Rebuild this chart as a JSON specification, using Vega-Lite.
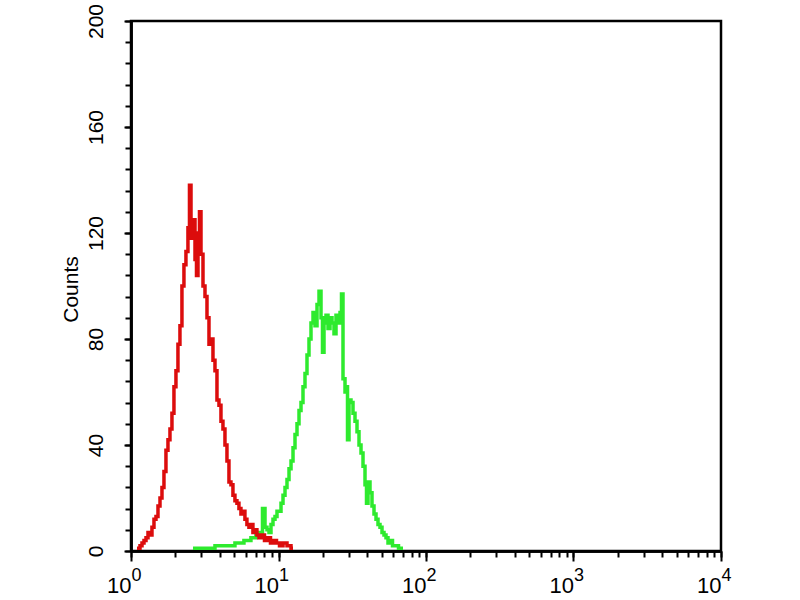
{
  "$schema": "https://vega.github.io/schema/vega-lite/v6.json",
  "width": 590,
  "height": 530,
  "autosize": {"type": "none"},
  "padding": {"left": 131, "top": 21, "right": 79, "bottom": 49},
  "background": "white",
  "config": {
    "view": {"stroke": "#000", "strokeWidth": 2.5},
    "axis": {"grid": false, "domainColor": "#000", "domainWidth": 2.5, "tickColor": "#000", "tickWidth": 2, "labelColor": "#000", "titleColor": "#000", "labelOverlap": false, "labelBound": false, "labelFlush": false}
  },
  "datasets": {
    "green": [
      {"v": 2.632, "c": 1}, {"v": 2.936, "c": 1}, {"v": 3.431, "c": 1}, {"v": 4.01, "c": 2}, {"v": 4.687, "c": 2}, {"v": 5.478, "c": 3}, {"v": 6.205, "c": 4}, {"v": 6.814, "c": 5}, {"v": 7.252, "c": 7}, {"v": 7.607, "c": 6}, {"v": 7.977, "c": 16}, {"v": 8.227, "c": 9}, {"v": 8.488, "c": 8}, {"v": 8.757, "c": 7}, {"v": 9.033, "c": 10}, {"v": 9.321, "c": 12}, {"v": 9.618, "c": 13}, {"v": 9.922, "c": 15}, {"v": 10.24, "c": 15}, {"v": 10.56, "c": 18}, {"v": 10.9, "c": 21}, {"v": 11.24, "c": 24}, {"v": 11.6, "c": 27}, {"v": 11.97, "c": 31}, {"v": 12.35, "c": 34}, {"v": 12.74, "c": 39}, {"v": 13.14, "c": 44}, {"v": 13.56, "c": 48}, {"v": 13.99, "c": 53}, {"v": 14.43, "c": 56}, {"v": 14.89, "c": 62}, {"v": 15.36, "c": 67}, {"v": 15.85, "c": 74}, {"v": 16.35, "c": 80}, {"v": 16.87, "c": 86}, {"v": 17.41, "c": 90}, {"v": 17.96, "c": 85}, {"v": 18.53, "c": 93}, {"v": 19.12, "c": 98}, {"v": 19.72, "c": 88}, {"v": 20.03, "c": 75}, {"v": 20.67, "c": 86}, {"v": 21.32, "c": 89}, {"v": 22.0, "c": 84}, {"v": 22.7, "c": 88}, {"v": 23.42, "c": 86}, {"v": 24.16, "c": 82}, {"v": 24.93, "c": 89}, {"v": 25.72, "c": 86}, {"v": 26.53, "c": 90}, {"v": 26.95, "c": 97}, {"v": 27.8, "c": 65}, {"v": 28.69, "c": 60}, {"v": 29.14, "c": 62}, {"v": 29.6, "c": 42}, {"v": 30.53, "c": 57}, {"v": 31.5, "c": 56}, {"v": 32.5, "c": 52}, {"v": 33.53, "c": 49}, {"v": 34.6, "c": 45}, {"v": 35.69, "c": 40}, {"v": 36.83, "c": 37}, {"v": 37.99, "c": 32}, {"v": 39.2, "c": 25}, {"v": 39.81, "c": 18}, {"v": 41.07, "c": 26}, {"v": 42.38, "c": 22}, {"v": 43.72, "c": 17}, {"v": 45.11, "c": 14}, {"v": 46.54, "c": 12}, {"v": 48.01, "c": 10}, {"v": 49.54, "c": 9}, {"v": 51.11, "c": 7}, {"v": 52.73, "c": 6}, {"v": 54.4, "c": 5}, {"v": 56.13, "c": 3}, {"v": 57.91, "c": 4}, {"v": 60.68, "c": 2}, {"v": 63.59, "c": 2}, {"v": 66.64, "c": 1}, {"v": 69.83, "c": 1}
    ],
    "red": [
      {"v": 1.098, "c": 1}, {"v": 1.133, "c": 1}, {"v": 1.169, "c": 2}, {"v": 1.206, "c": 3}, {"v": 1.244, "c": 4}, {"v": 1.284, "c": 5}, {"v": 1.324, "c": 7}, {"v": 1.366, "c": 6}, {"v": 1.409, "c": 9}, {"v": 1.454, "c": 12}, {"v": 1.5, "c": 13}, {"v": 1.548, "c": 17}, {"v": 1.597, "c": 20}, {"v": 1.647, "c": 24}, {"v": 1.699, "c": 30}, {"v": 1.753, "c": 38}, {"v": 1.809, "c": 42}, {"v": 1.866, "c": 46}, {"v": 1.925, "c": 52}, {"v": 1.986, "c": 62}, {"v": 2.049, "c": 68}, {"v": 2.114, "c": 78}, {"v": 2.181, "c": 85}, {"v": 2.25, "c": 100}, {"v": 2.321, "c": 108}, {"v": 2.395, "c": 113}, {"v": 2.471, "c": 122}, {"v": 2.512, "c": 138}, {"v": 2.592, "c": 118}, {"v": 2.674, "c": 125}, {"v": 2.758, "c": 110}, {"v": 2.802, "c": 104}, {"v": 2.89, "c": 120}, {"v": 2.936, "c": 128}, {"v": 3.029, "c": 112}, {"v": 3.125, "c": 100}, {"v": 3.224, "c": 96}, {"v": 3.326, "c": 88}, {"v": 3.431, "c": 78}, {"v": 3.54, "c": 80}, {"v": 3.652, "c": 72}, {"v": 3.768, "c": 68}, {"v": 3.887, "c": 57}, {"v": 4.01, "c": 55}, {"v": 4.137, "c": 49}, {"v": 4.268, "c": 46}, {"v": 4.404, "c": 40}, {"v": 4.543, "c": 34}, {"v": 4.687, "c": 26}, {"v": 4.835, "c": 25}, {"v": 4.988, "c": 21}, {"v": 5.146, "c": 19}, {"v": 5.309, "c": 18}, {"v": 5.478, "c": 16}, {"v": 5.651, "c": 14}, {"v": 5.83, "c": 15}, {"v": 6.015, "c": 12}, {"v": 6.205, "c": 10}, {"v": 6.402, "c": 9}, {"v": 6.605, "c": 10}, {"v": 6.814, "c": 7}, {"v": 7.03, "c": 8}, {"v": 7.252, "c": 6}, {"v": 7.482, "c": 5}, {"v": 7.851, "c": 6}, {"v": 8.227, "c": 4}, {"v": 8.622, "c": 5}, {"v": 9.033, "c": 3}, {"v": 9.468, "c": 4}, {"v": 9.922, "c": 3}, {"v": 10.4, "c": 2}, {"v": 11.07, "c": 3}, {"v": 11.78, "c": 2}, {"v": 12.54, "c": 1}
    ]
  },
  "layer": [
    {
      "data": {"name": "green"},
      "mark": {"type": "line", "interpolate": "step", "color": "#2eea2e", "strokeWidth": 3.5},
      "encoding": {
        "x": {
          "field": "v", "type": "quantitative",
          "scale": {"type": "log", "domain": [1, 10000], "nice": false},
          "axis": {
            "orient": "bottom", "title": null,
            "values": [1, 2, 3, 4, 5, 6, 7, 8, 9, 10, 20, 30, 40, 50, 60, 70, 80, 90, 100, 200, 300, 400, 500, 600, 700, 800, 900, 1000, 2000, 3000, 4000, 5000, 6000, 7000, 8000, 9000, 10000],
            "tickSize": 6,
            "labelExpr": "indexof([1, 10, 100, 1000, 10000], datum.value) >= 0 ? '10' : ''",
            "labelAlign": "right", "labelBaseline": "top", "labelDx": 4, "labelPadding": 18,
            "labelFont": "Liberation Sans", "labelFontSize": 22
          }
        },
        "y": {
          "field": "c", "type": "quantitative",
          "scale": {"domain": [0, 200], "nice": false},
          "axis": {
            "orient": "left", "title": null,
            "values": [0, 8, 16, 24, 32, 40, 48, 56, 64, 72, 80, 88, 96, 104, 112, 120, 128, 136, 144, 152, 160, 168, 176, 184, 192, 200],
            "tickSize": 6, "labels": false
          }
        }
      }
    },
    {
      "data": {"name": "red"},
      "mark": {"type": "line", "interpolate": "step", "color": "#dc0c0c", "strokeWidth": 3.5},
      "encoding": {
        "x": {
          "field": "v", "type": "quantitative",
          "scale": {"type": "log", "domain": [1, 10000], "nice": false},
          "axis": {
            "orient": "bottom", "title": null,
            "values": [1, 10, 100, 1000, 10000],
            "tickSize": 10,
            "labelExpr": "'' + round(log(datum.value) / LN10)",
            "labelAlign": "left", "labelBaseline": "top", "labelDx": 6, "labelPadding": 5,
            "labelFont": "Liberation Sans", "labelFontSize": 18
          }
        },
        "y": {
          "field": "c", "type": "quantitative",
          "scale": {"domain": [0, 200], "nice": false},
          "axis": {
            "orient": "left", "title": "Counts",
            "values": [0, 40, 80, 120, 160, 200],
            "tickSize": 7,
            "labelAngle": -90, "labelAlign": "center", "labelBaseline": "bottom", "labelPadding": 18,
            "labelFont": "Liberation Sans", "labelFontSize": 21,
            "titleFont": "Liberation Sans", "titleFontSize": 21, "titleFontWeight": "normal",
            "titleAngle": -90, "titleAlign": "center", "titleBaseline": "middle", "titleX": -60, "titleY": 268
          }
        }
      }
    }
  ],
  "resolve": {"scale": {"x": "shared", "y": "shared"}, "axis": {"x": "independent", "y": "independent"}}
}
